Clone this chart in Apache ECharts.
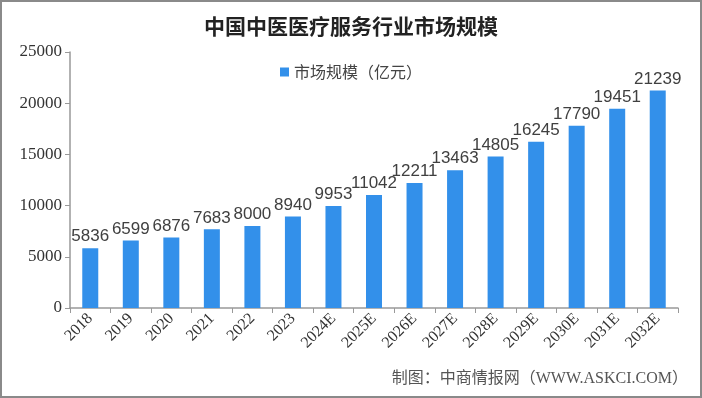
<!DOCTYPE html>
<html><head><meta charset="utf-8">
<script src="https://cdn.jsdelivr.net/npm/echarts@6/dist/echarts.min.js"></script>
<style>html,body{margin:0;padding:0;background:#fff}#c{width:702px;height:398px;box-sizing:border-box;border:2px solid #8a8a8a}</style>
</head><body><div id="c"></div>
<script>
const categories = ['2018','2019','2020','2021','2022','2023','2024E','2025E','2026E','2027E','2028E','2029E','2030E','2031E','2032E'];
const marketSize = [5836,6599,6876,7683,8000,8940,9953,11042,12211,13463,14805,16245,17790,19451,21239];
const yTicks = {min:0, max:25000, interval:5000};
const titleText = '中国中医医疗服务行业市场规模';
const seriesName = '市场规模（亿元）';
const sourceText = '制图：中商情报网（WWW.ASKCI.COM）';

const chart = echarts.init(document.getElementById('c'), null, {renderer:'canvas'});
chart.setOption({
  animation:false,
  title:{text:titleText, left:'center', top:9, textStyle:{fontFamily:'Noto Sans CJK SC', fontSize:21, fontWeight:'bold', color:'#222'}},
  legend:{data:[seriesName], top:57, left:'center', itemWidth:9, itemHeight:9, icon:'rect', itemGap:4,
    textStyle:{fontFamily:'Noto Sans CJK SC', fontSize:16, color:'#444'}},
  grid:{left:68, right:22, top:50, bottom:88, containLabel:false},
  xAxis:{type:'category', data:categories,
    axisLine:{lineStyle:{color:'#999', width:1.5}},
    axisTick:{show:true, length:5, lineStyle:{color:'#999'}},
    axisLabel:{rotate:45, color:'#333', fontFamily:'Liberation Serif', fontSize:16, margin:8}},
  yAxis:{type:'value', min:yTicks.min, max:yTicks.max, interval:yTicks.interval,
    axisLine:{show:true, lineStyle:{color:'#999', width:1.5}},
    axisTick:{show:true, length:5, lineStyle:{color:'#999'}},
    splitLine:{show:false},
    axisLabel:{color:'#333', fontFamily:'Liberation Serif', fontSize:17, margin:8, formatter:(v)=>String(v)}},
  series:[{name:seriesName, type:'bar', data:marketSize, barWidth:16,
    itemStyle:{color:'#3390ea'},
    label:{show:true, position:'top', distance:3, color:'#404040', fontFamily:'Liberation Sans', fontSize:17}}],
  graphic:[{type:'text', right:12, bottom:9, style:{text:sourceText, fill:'#555', font:'16px "Liberation Serif", "Noto Sans CJK SC"'}}]
});
</script></body></html>
